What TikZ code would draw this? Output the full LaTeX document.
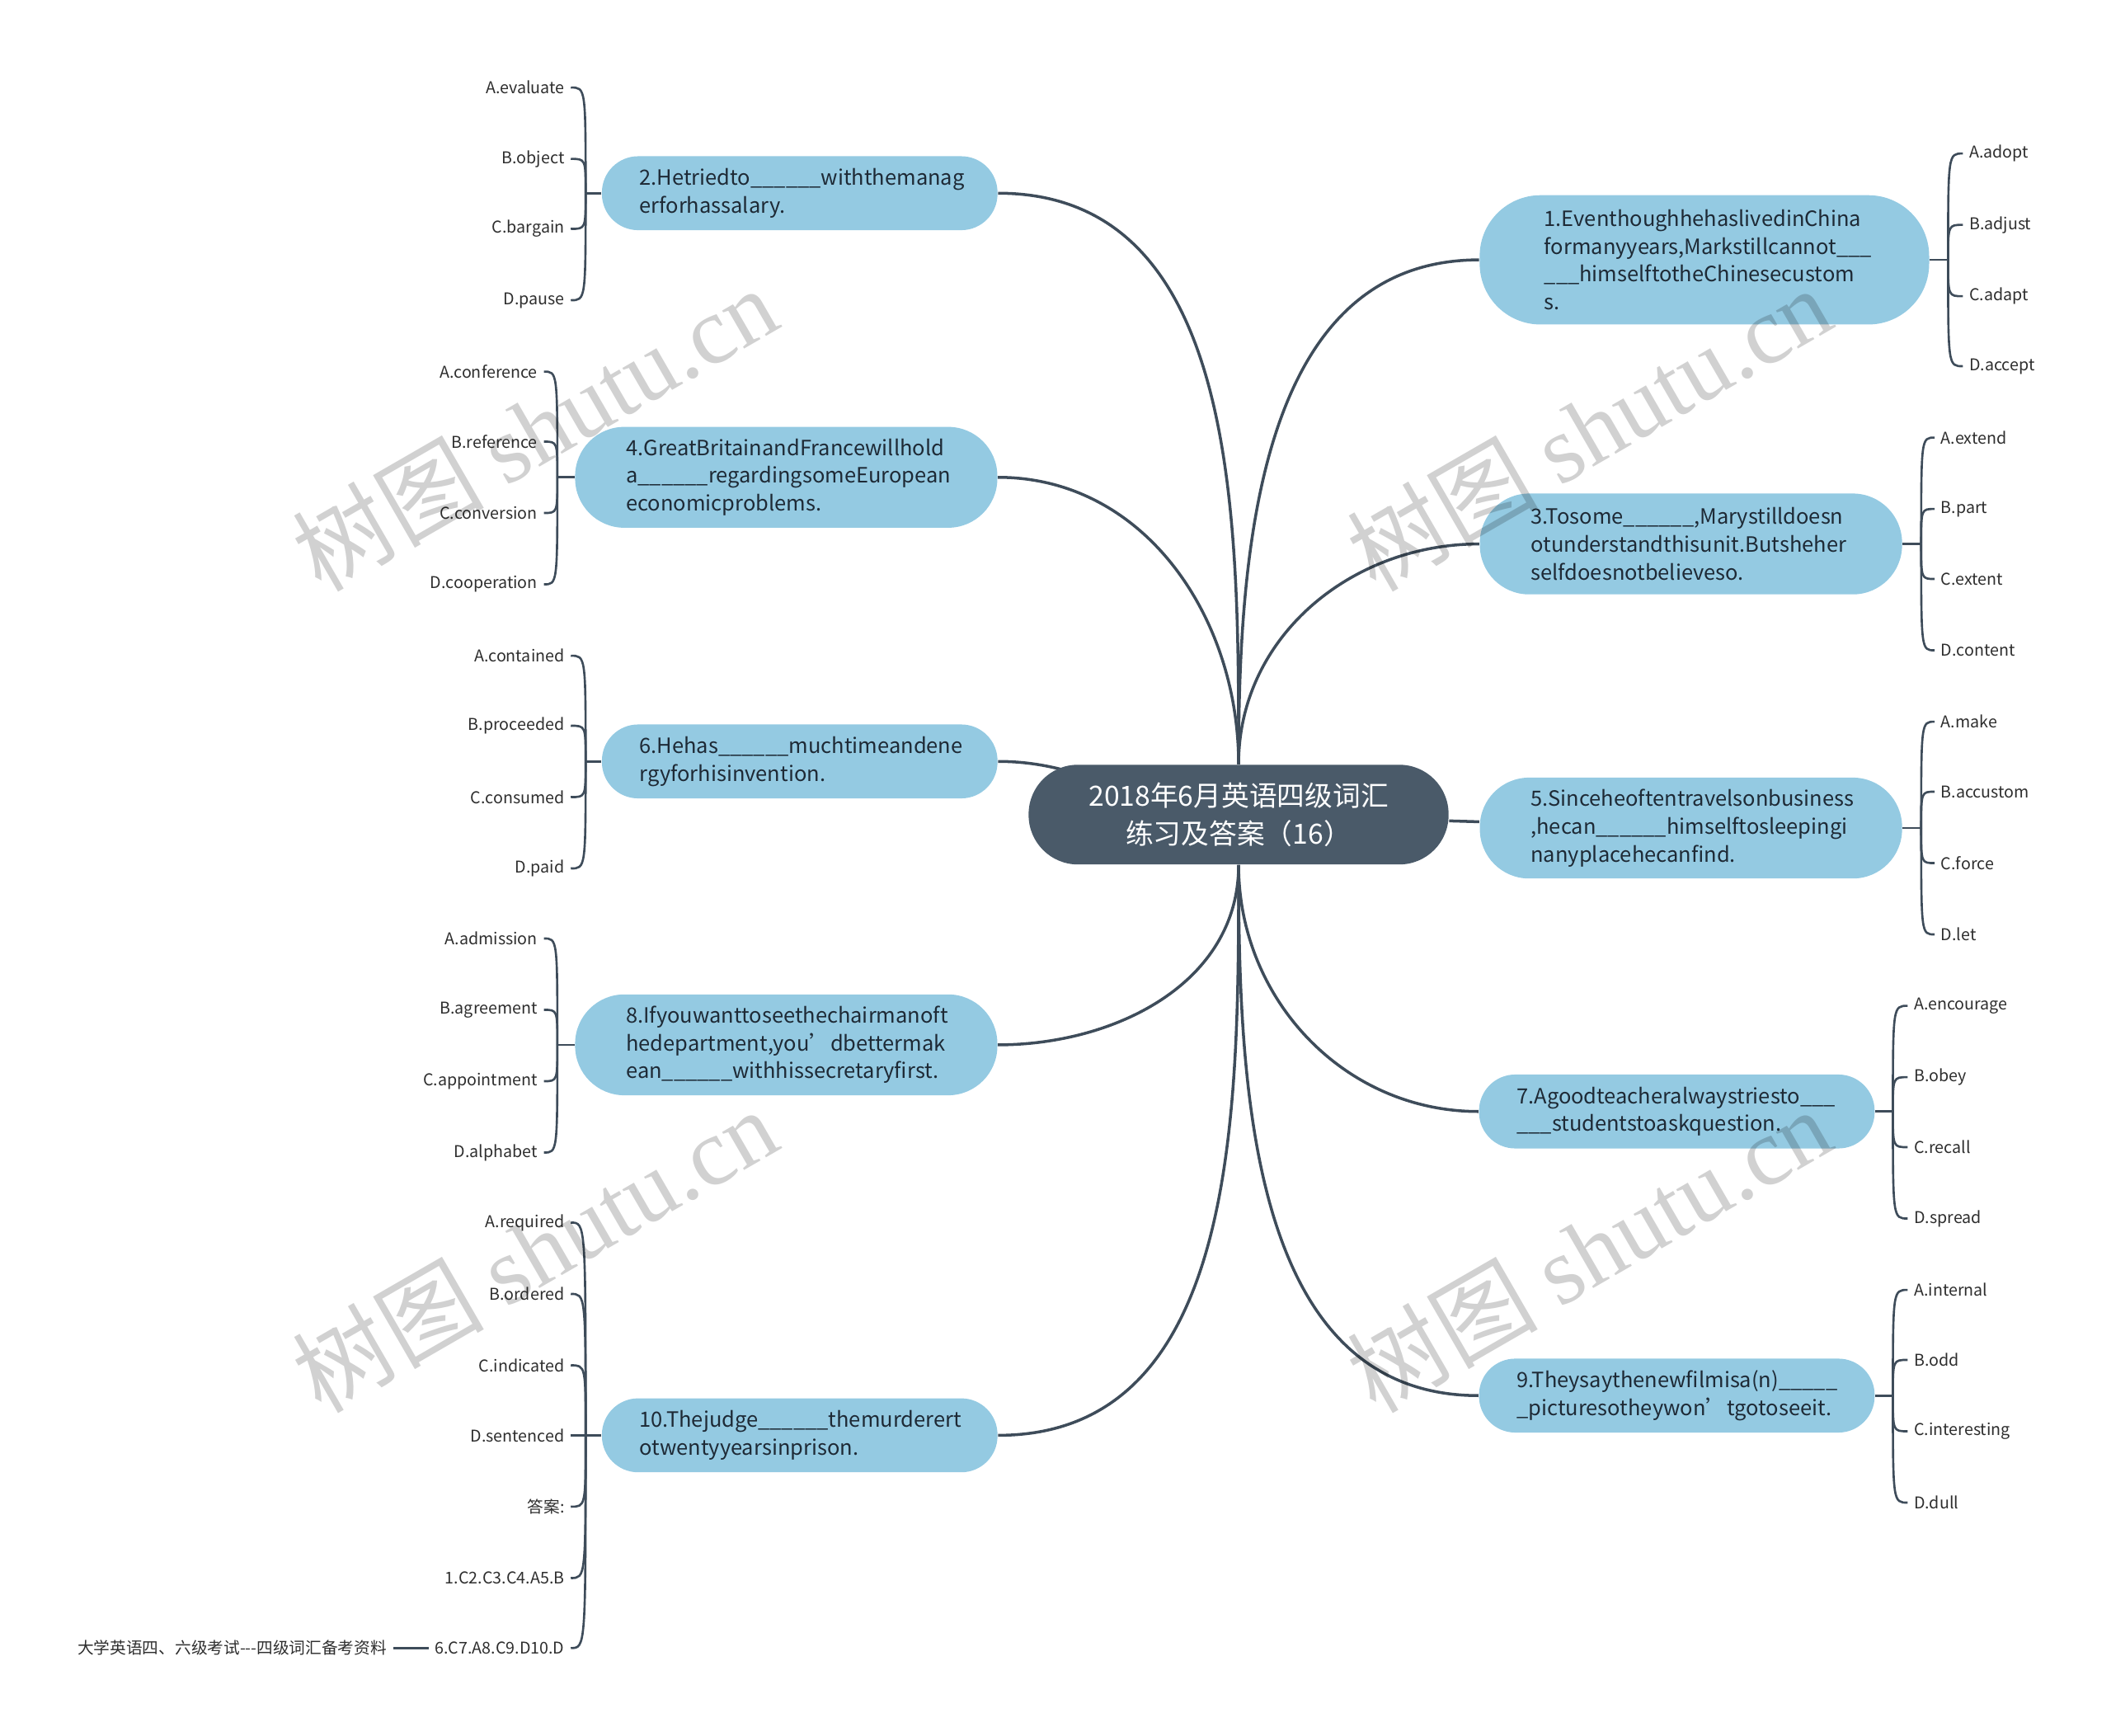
\documentclass[tikz,border=0pt]{standalone}
\usepackage{fontspec}
\setmainfont{Noto Sans CJK SC}
\newfontfamily\serifmark{Liberation Serif}
\usetikzlibrary{positioning,backgrounds}
\definecolor{Slate}{HTML}{4A5A69}
\definecolor{Wire}{HTML}{3E4C5A}
\definecolor{Sky}{HTML}{94CAE2}
\definecolor{Ink}{HTML}{1E2A36}
\definecolor{LeafInk}{HTML}{2E2E2E}

\begin{document}
\begin{tikzpicture}[x=0.016327cm,y=-0.016327cm,
    conn/.style={draw=Wire,line width=1pt},
    brace/.style={draw=Wire,line width=0.75pt},
    leaf/.style={text=LeafInk,font=\fontsize{5.6}{7}\selectfont,inner xsep=2pt,inner ysep=1pt},
    qbox/.style={fill=Sky,text=Ink,align=left,text width=110.5pt,inner ysep=0pt,font=\fontsize{7.25}{9.6}\selectfont},
    qtwo/.style={qbox,minimum height=25.5pt,inner xsep=13pt,rounded corners=12.5pt},
    qthree/.style={qbox,minimum height=34.8pt,inner xsep=17.6pt,rounded corners=17pt},
    qfour/.style={qbox,minimum height=44.6pt,inner xsep=22.3pt,rounded corners=21pt},
    stamp/.style={text=black,text opacity=0.18,font=\fontsize{33}{40}\selectfont,rotate=30}]
  \useasboundingbox (0,0) rectangle (1568,1289);

  % centre
  \node[fill=Slate,text=white,align=center,minimum width=144.9pt,minimum height=34.4pt,
        rounded corners=17pt,font=\fontsize{9.6}{13}\selectfont] (root) at (920,605)
        {2018年6月英语四级词汇\\练习及答案（16）};

  % questions
  \node[qfour] (q1) at (1266,193) {1.EventhoughhehaslivedinChina\\formanyyears,Markstillcannot\_\_\_\\\_\_\_himselftotheChinesecustom\\s.};
  \node[qtwo] (q2) at (594,143.5) {2.Hetriedto\_\_\_\_\_\_withthemanag\\erforhassalary.};
  \node[qthree] (q3) at (1256,404) {3.Tosome\_\_\_\_\_\_,Marystilldoesn\\otunderstandthisunit.Butsheher\\selfdoesnotbelieveso.};
  \node[qthree] (q4) at (584,354.5) {4.GreatBritainandFrancewillhold\\a\_\_\_\_\_\_regardingsomeEuropean\\economicproblems.};
  \node[qthree] (q5) at (1256,615) {5.Sinceheoftentravelsonbusiness\\,hecan\_\_\_\_\_\_himselftosleepingi\\nanyplacehecanfind.};
  \node[qtwo] (q6) at (594,565.5) {6.Hehas\_\_\_\_\_\_muchtimeandene\\rgyforhisinvention.};
  \node[qtwo] (q7) at (1245.5,825.5) {7.Agoodteacheralwaystriesto\_\_\_\\\_\_\_studentstoaskquestion.};
  \node[qthree] (q8) at (584,776) {8.Ifyouwanttoseethechairmanoft\\hedepartment,you’dbettermak\\ean\_\_\_\_\_\_withhissecretaryfirst.};
  \node[qtwo] (q9) at (1245.5,1036.5) {9.Theysaythenewfilmisa(n)\_\_\_\_\_\\\_picturesotheywon’tgotoseeit.};
  \node[qtwo] (q10) at (594,1066) {10.Thejudge\_\_\_\_\_\_themurderert\\otwentyyearsinprison.};

  \begin{scope}[on background layer]
    \draw[conn] (root.north) to[out=90,in=0] (q2.east);
    \draw[conn] (root.north) to[out=90,in=0] (q4.east);
    \draw[conn] (root.center) to[out=180,in=0] (q6.east);
    \draw[conn] (root.south) to[out=-90,in=0] (q8.east);
    \draw[conn] (root.south) to[out=-90,in=0] (q10.east);
    \draw[conn] (root.north) to[out=90,in=180] (q1.west);
    \draw[conn] (root.north) to[out=90,in=180] (q3.west);
    \draw[conn] (root) -- (q5);
    \draw[conn] (root.south) to[out=-90,in=180] (q7.west);
    \draw[conn] (root.south) to[out=-90,in=180] (q9.west);
  \end{scope}

  % options, left side
  \coordinate (h2) at (435,143.5);
  \draw[brace] (q2.west) -- (h2);
  \foreach \i/\y/\txt in {1/65/A.evaluate,2/118/B.object,3/170/C.bargain,4/223/D.pause}
  {
    \node[leaf,anchor=east] (l2-\i) at (424,\y) {\txt};
    \draw[brace] (h2) .. controls (435,\y) .. (l2-\i.east);
  }
  \coordinate (h4) at (414,354.5);
  \draw[brace] (q4.west) -- (h4);
  \foreach \i/\y/\txt in {1/276/A.conference,2/328/B.reference,3/381/C.conversion,4/434/D.cooperation}
  {
    \node[leaf,anchor=east] (l4-\i) at (404,\y) {\txt};
    \draw[brace] (h4) .. controls (414,\y) .. (l4-\i.east);
  }
  \coordinate (h6) at (435,565.5);
  \draw[brace] (q6.west) -- (h6);
  \foreach \i/\y/\txt in {1/487/A.contained,2/539/B.proceeded,3/592/C.consumed,4/645/D.paid}
  {
    \node[leaf,anchor=east] (l6-\i) at (424,\y) {\txt};
    \draw[brace] (h6) .. controls (435,\y) .. (l6-\i.east);
  }
  \coordinate (h8) at (414,776);
  \draw[brace] (q8.west) -- (h8);
  \foreach \i/\y/\txt in {1/697/A.admission,2/750/B.agreement,3/803/C.appointment,4/856/D.alphabet}
  {
    \node[leaf,anchor=east] (l8-\i) at (404,\y) {\txt};
    \draw[brace] (h8) .. controls (414,\y) .. (l8-\i.east);
  }
  \coordinate (h10) at (435,1066);
  \draw[brace] (q10.west) -- (h10);
  \foreach \i/\y/\txt in {1/908/A.required,2/961/B.ordered,3/1014/C.indicated,4/1066/D.sentenced,
      5/1119/答案:,6/1172/1.C2.C3.C4.A5.B,7/1224/6.C7.A8.C9.D10.D}
  {
    \node[leaf,anchor=east] (l10-\i) at (424,\y) {\txt};
    \draw[brace] (h10) .. controls (435,\y) .. (l10-\i.east);
  }
  \node[leaf,anchor=east] (src) at (292,1224) {大学英语四、六级考试\mbox{-}\mbox{-}\mbox{-}四级词汇备考资料};
  \draw[brace] (l10-7.west) -- (src.east);

  % options, right side
  \coordinate (h1) at (1447,193);
  \draw[brace] (q1.east) -- (h1);
  \foreach \i/\y/\txt in {1/114/A.adopt,2/167/B.adjust,3/220/C.adapt,4/272/D.accept}
  {
    \node[leaf,anchor=west] (l1-\i) at (1458,\y) {\txt};
    \draw[brace] (h1) .. controls (1447,\y) .. (l1-\i.west);
  }
  \coordinate (h3) at (1427,404);
  \draw[brace] (q3.east) -- (h3);
  \foreach \i/\y/\txt in {1/325/A.extend,2/378/B.part,3/430/C.extent,4/483/D.content}
  {
    \node[leaf,anchor=west] (l3-\i) at (1437,\y) {\txt};
    \draw[brace] (h3) .. controls (1427,\y) .. (l3-\i.west);
  }
  \coordinate (h5) at (1427,615);
  \draw[brace] (q5.east) -- (h5);
  \foreach \i/\y/\txt in {1/536/A.make,2/588/B.accustom,3/641/C.force,4/694/D.let}
  {
    \node[leaf,anchor=west] (l5-\i) at (1437,\y) {\txt};
    \draw[brace] (h5) .. controls (1427,\y) .. (l5-\i.west);
  }
  \coordinate (h7) at (1406,825.5);
  \draw[brace] (q7.east) -- (h7);
  \foreach \i/\y/\txt in {1/747/A.encourage,2/800/B.obey,3/852/C.recall,4/905/D.spread}
  {
    \node[leaf,anchor=west] (l7-\i) at (1417,\y) {\txt};
    \draw[brace] (h7) .. controls (1406,\y) .. (l7-\i.west);
  }
  \coordinate (h9) at (1406,1036.5);
  \draw[brace] (q9.east) -- (h9);
  \foreach \i/\y/\txt in {1/958/A.internal,2/1010/B.odd,3/1063/C.interesting,4/1116/D.dull}
  {
    \node[leaf,anchor=west] (l9-\i) at (1417,\y) {\txt};
    \draw[brace] (h9) .. controls (1406,\y) .. (l9-\i.west);
  }

  % watermarks
  \node[stamp] (w1) at (397,318) {树图 {\serifmark shutu.cn}};
  \node[stamp] (w2) at (1180,318) {树图 {\serifmark shutu.cn}};
  \node[stamp] (w3) at (397,928) {树图 {\serifmark shutu.cn}};
  \node[stamp] (w4) at (1180,928) {树图 {\serifmark shutu.cn}};
\end{tikzpicture}
\end{document}
